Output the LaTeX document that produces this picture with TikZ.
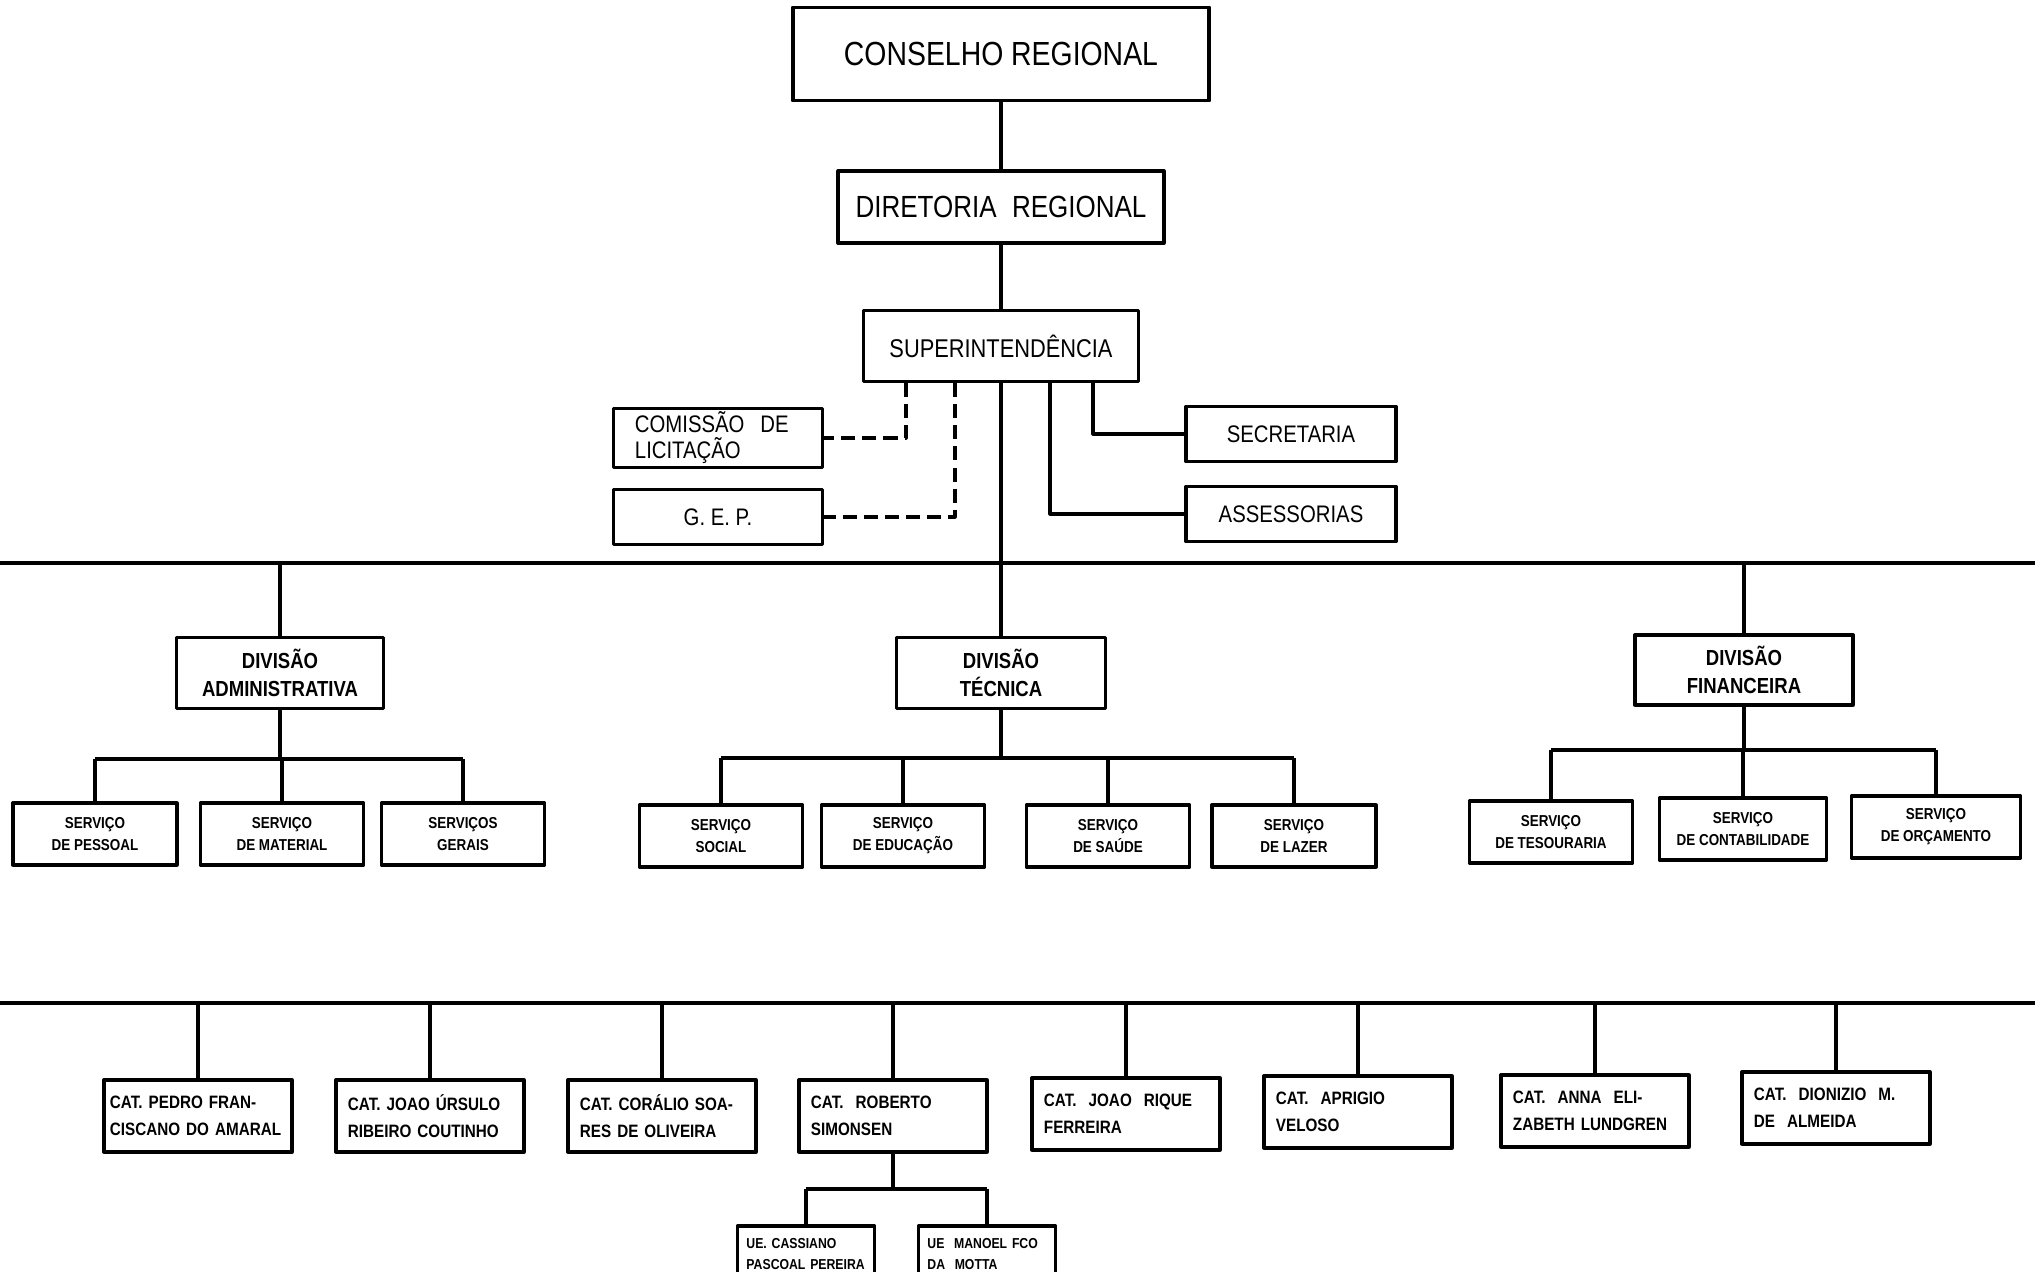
\documentclass[tikz,border=0pt]{standalone}
\usepackage{fontspec}
\setmainfont{Liberation Sans}[FakeStretch=0.85]
\tikzset{
  box/.style={draw, line width=0.9pt, inner sep=1pt, align=center},
  topbox/.style={box, line width=1.1pt, font=\fontsize{9.5}{11}\selectfont},
  staffbox/.style={box, font=\fontsize{6.8}{7.4}\selectfont, minimum width=2.09cm, minimum height=0.55cm},
  divbox/.style={box, font=\fontsize{6.2}{8.1}\selectfont\bfseries, minimum width=2.1cm, minimum height=0.71cm},
  servbox/.style={box, font=\fontsize{4.5}{6.3}\selectfont\bfseries, minimum width=1.63cm, minimum height=0.62cm},
  catbox/.style={box, align=left, font=\fontsize{5.1}{7.7}\selectfont\bfseries, text width=1.64cm, inner xsep=0.12cm, minimum height=0.72cm},
  uebox/.style={box, align=left, font=\fontsize{4.1}{5.8}\selectfont\bfseries, text width=1.19cm, inner xsep=0.09cm, minimum height=0.56cm},
  link/.style={line width=0.9pt},
  aux/.style={link, dash pattern=on 4pt off 2pt},
}
\begin{document}
\begin{tikzpicture}[x=0.01cm, y=-0.01cm, line join=round]
\useasboundingbox (0,0) rectangle (2035,1272);
\node[topbox, minimum width=4.16cm, minimum height=0.93cm] (conselho) at (1001,54) {CONSELHO REGIONAL};
\node[topbox, font=\fontsize{8.7}{10}\selectfont, minimum width=3.25cm, minimum height=0.72cm] (diretoria) at (1001,207) {DIRETORIA\hspace{0.5em}REGIONAL};
\node[box, font=\fontsize{7.3}{8}\selectfont, minimum width=2.75cm, minimum height=0.71cm] (sup) at (1001,346) {SUPERINTENDÊNCIA};
\node[staffbox, align=left, text width=1.66cm, inner xsep=0.21cm] (comissao) at (718,438) {COMISSÃO\ \ DE\\LICITAÇÃO};
\node[staffbox] (gep) at (718,517) {G. E. P.};
\node[staffbox, minimum width=2.1cm] (secretaria) at (1291,434) {SECRETARIA};
\node[staffbox, minimum width=2.1cm] (assessorias) at (1291,514) {ASSESSORIAS};
\coordinate (railA) at (0,563);
\coordinate (railAend) at (2035,563);
\coordinate (railB) at (0,1003);
\coordinate (railBend) at (2035,1003);
\node[divbox, minimum width=2.07cm] (divadm) at (280,673) {DIVISÃO\\ADMINISTRATIVA};
\node[divbox, minimum width=2.09cm] (divtec) at (1001,673) {DIVISÃO\\TÉCNICA};
\node[divbox, minimum width=2.18cm, minimum height=0.7cm] (divfin) at (1744,670) {DIVISÃO\\FINANCEIRA};
\coordinate (busadm) at (0,759);
\coordinate (bustec) at (0,758);
\coordinate (busfin) at (0,750);
\node[servbox, minimum width=1.64cm] (pessoal) at (95,834) {SERVIÇO\\DE PESSOAL};
\node[servbox] (material) at (282,834) {SERVIÇO\\DE MATERIAL};
\node[servbox] (gerais) at (463,834) {SERVIÇOS\\GERAIS};
\node[servbox] (social) at (721,836) {SERVIÇO\\SOCIAL};
\node[servbox] (educacao) at (903,836) {SERVIÇO\\DE EDUCAÇÃO};
\node[servbox] (saude) at (1108,836) {SERVIÇO\\DE SAÚDE};
\node[servbox, minimum width=1.64cm] (lazer) at (1294,836) {SERVIÇO\\DE LAZER};
\node[servbox] (tesouraria) at (1551,832) {SERVIÇO\\DE TESOURARIA};
\node[servbox, minimum width=1.67cm] (contab) at (1743,829) {SERVIÇO\\DE CONTABILIDADE};
\node[servbox, minimum width=1.69cm] (orcamento) at (1936,827) {SERVIÇO\\DE ORÇAMENTO};
\node[catbox, text width=1.76cm, inner xsep=0.06cm] (cat1) at (198,1116) {CAT. PEDRO FRAN-\\CISCANO DO AMARAL};
\node[catbox] (cat2) at (430,1116) {CAT. JOAO ÚRSULO\\RIBEIRO COUTINHO};
\node[catbox] (cat3) at (662,1116) {CAT. CORÁLIO SOA-\\RES DE OLIVEIRA};
\node[catbox] (cat4) at (893,1116) {CAT.\ \ ROBERTO\\SIMONSEN};
\node[catbox] (cat5) at (1126,1114) {CAT.\ \ JOAO\ \ RIQUE\\FERREIRA};
\node[catbox] (cat6) at (1358,1112) {CAT.\ \ APRIGIO\\VELOSO};
\node[catbox] (cat7) at (1595,1111) {CAT.\ \ ANNA\ \ ELI-\\ZABETH LUNDGREN};
\node[catbox] (cat8) at (1836,1108) {CAT.\ \ DIONIZIO\ \ M.\\DE\ \ ALMEIDA};
\coordinate (busue) at (0,1189);
\node[uebox] (ue1) at (806,1254) {UE. CASSIANO\\PASCOAL PEREIRA};
\node[uebox] (ue2) at (987,1254) {UE\ \ MANOEL FCO\\DA\ \ MOTTA};
\draw[link] (conselho) -- (diretoria);
\draw[link] (diretoria) -- (sup);
\draw[link] (sup) -- (divtec);
\draw[link] (railA) -- (railAend);
\draw[link] (railB) -- (railBend);
\draw[aux] ([xshift=-0.95cm]sup.south) |- (comissao);
\draw[aux] ([xshift=-0.46cm]sup.south) |- (gep);
\draw[link] ([xshift=0.92cm]sup.south) |- (secretaria);
\draw[link] ([xshift=0.49cm]sup.south) |- (assessorias);
\foreach \dv in {divadm,divfin} \draw[link] (\dv |- railA) -- (\dv);
\draw[link] (divadm) -- (divadm |- busadm);
\draw[link] (pessoal |- busadm) -- (gerais |- busadm);
\foreach \s in {pessoal,material,gerais} \draw[link] (\s |- busadm) -- (\s);
\draw[link] (divtec) -- (divtec |- bustec);
\draw[link] (social |- bustec) -- (lazer |- bustec);
\foreach \s in {social,educacao,saude,lazer} \draw[link] (\s |- bustec) -- (\s);
\draw[link] (divfin) -- (divfin |- busfin);
\draw[link] (tesouraria |- busfin) -- (orcamento |- busfin);
\foreach \s in {tesouraria,contab,orcamento} \draw[link] (\s |- busfin) -- (\s);
\foreach \n in {1,...,8} \draw[link] (cat\n |- railB) -- (cat\n);
\draw[link] (cat4) -- (cat4 |- busue);
\draw[link] (ue1 |- busue) -- (ue2 |- busue);
\foreach \u in {ue1,ue2} \draw[link] (\u |- busue) -- (\u);
\end{tikzpicture}
\end{document}
